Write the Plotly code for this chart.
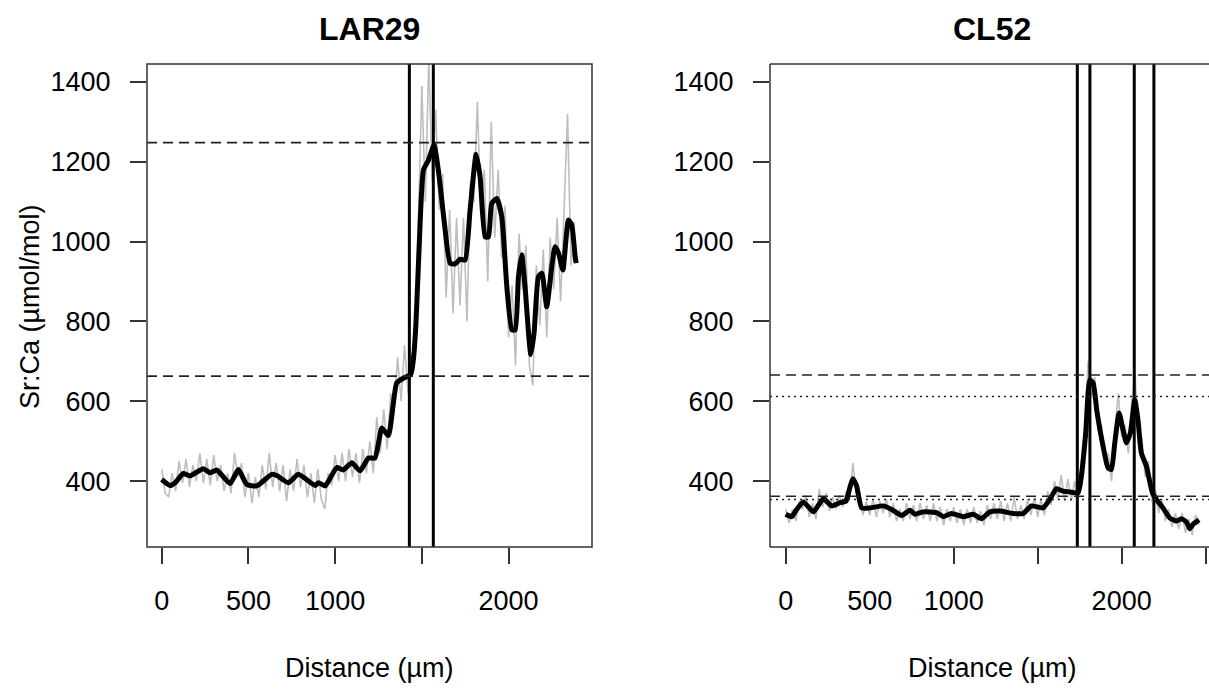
import plotly.graph_objects as go

# ---------------- data ----------------
titles = ["LAR29", "CL52"]
y_title = "Sr:Ca (µmol/mol)"
x_title = "Distance (µm)"

# LAR29 raw (grey) profile
lar_raw_x = list(range(0, 2381, 20))
lar_raw_y = [430, 370, 360, 420, 375, 450, 395, 455, 385, 440, 400, 470, 395, 455, 390, 465, 400, 440, 375, 420,
             370, 470, 410, 445, 360, 420, 345, 410, 360, 440, 380, 470, 385, 445, 375, 440, 350, 430, 375, 455,
             385, 440, 360, 420, 345, 430, 355, 330, 420, 390, 465, 400, 470, 400, 480, 410, 470, 395, 480, 420,
             500, 420, 560, 470, 580, 480, 620, 580, 710, 600, 740, 620, 720, 700, 1050, 1390, 1100, 1460, 1150, 1330,
             1080, 1170, 860, 1080, 820, 1060, 840, 1060, 800, 1150, 1100, 1350, 1070, 1180, 900, 1300, 1010, 1180, 960, 1090,
             760, 890, 690, 1020, 880, 990, 690, 640, 940, 790, 980, 760, 1010, 880, 1060, 850, 1080, 1320, 940, 1050]

# LAR29 smoothed (black) profile
lar_sm_x = [0, 48, 77, 125, 163, 240, 279, 317, 394, 442, 490, 548, 634, 663, 730, 788, 884, 904, 942, 1009,
            1047, 1096, 1144, 1192, 1230, 1269, 1307, 1355, 1394, 1436, 1451, 1466, 1486, 1509, 1538, 1570, 1595, 1628, 1663, 1692,
            1720, 1749, 1778, 1813, 1836, 1865, 1884, 1903, 1932, 1961, 1990, 2019, 2038, 2057, 2076, 2095, 2115, 2128, 2147, 2172,
            2192, 2220, 2249, 2268, 2288, 2313, 2345, 2364, 2384, 2390]
lar_sm_y = [404, 389, 396, 419, 413, 431, 421, 428, 394, 429, 392, 388, 417, 414, 396, 417, 389, 396, 388, 434,
            428, 446, 426, 458, 458, 533, 514, 646, 658, 667, 704, 796, 1004, 1179, 1204, 1242, 1179, 1054, 946, 944,
            956, 954, 1079, 1219, 1162, 1012, 1012, 1096, 1108, 1062, 887, 779, 779, 912, 967, 887, 771, 717, 771, 912,
            921, 837, 937, 987, 971, 929, 1054, 1042, 962, 946]

lar_vlines = [1428, 1566]
lar_dashed = [1248, 663]

# CL52 raw (grey) profile
cl_raw_x = list(range(0, 2461, 20))
cl_raw_y = [330, 295, 330, 300, 350, 330, 365, 310, 345, 305, 380, 335, 370, 325, 360, 330, 365, 335, 375, 355,
            445, 370, 360, 315, 350, 315, 355, 310, 350, 320, 355, 310, 345, 300, 330, 300, 345, 305, 340, 300,
            345, 305, 340, 300, 345, 300, 335, 290, 330, 300, 335, 295, 330, 290, 330, 295, 335, 295, 325, 290,
            340, 305, 345, 305, 350, 300, 345, 300, 360, 305, 340, 305, 355, 315, 360, 310, 355, 315, 375, 340,
            400, 355, 415, 350, 405, 350, 400, 350, 450, 470, 700, 610, 660, 530, 540, 440, 470, 400, 530, 620,
            510, 540, 470, 600, 670, 500, 510, 410, 450, 350, 380, 320, 355, 300, 330, 285, 320, 280, 320, 270,
            305, 265, 315, 290]

# CL52 smoothed (black) profile
cl_sm_x = [0, 36, 65, 105, 165, 224, 274, 323, 359, 379, 399, 422, 452, 502, 581, 631, 690, 740, 769, 819,
           898, 938, 987, 1057, 1116, 1166, 1215, 1275, 1354, 1414, 1463, 1532, 1572, 1612, 1651, 1691, 1741, 1760, 1786, 1810,
           1830, 1854, 1889, 1919, 1939, 1959, 1985, 2008, 2028, 2052, 2078, 2097, 2117, 2147, 2183, 2207, 2246, 2286, 2326, 2355,
           2385, 2405, 2425, 2461]
cl_sm_y = [317, 311, 329, 348, 323, 356, 338, 346, 350, 379, 406, 388, 333, 333, 338, 329, 314, 327, 317, 323,
           321, 311, 319, 311, 317, 306, 323, 325, 319, 319, 338, 333, 354, 381, 375, 373, 371, 412, 521, 654,
           646, 571, 488, 433, 429, 496, 571, 529, 496, 521, 604, 554, 471, 438, 371, 354, 333, 308, 300, 306,
           298, 281, 292, 303]

cl_vlines = [1736, 1811, 2075, 2192]
cl_dashed = [666, 362]
cl_dotted = [612, 354]

y_ticks = [400, 600, 800, 1000, 1200, 1400]
lar_xticks = [0, 500, 1000, 1500, 2000]
lar_xlabels = ["0", "500", "1000", "", "2000"]
cl_xticks = [0, 500, 1000, 1500, 2000, 2500]
cl_xlabels = ["0", "500", "1000", "", "2000", ""]

# ---------------- figure ----------------
W, H = 1209, 698
FONT = "Liberation Sans, Arial, sans-serif"
GREY = "#BEBEBE"
AXC = "#333333"

fig = go.Figure()

fig.add_trace(go.Scatter(x=lar_raw_x, y=lar_raw_y, mode="lines", line=dict(color=GREY, width=1.6),
                         xaxis="x", yaxis="y", showlegend=False, hoverinfo="skip"))
fig.add_trace(go.Scatter(x=lar_sm_x, y=lar_sm_y, mode="lines",
                         line=dict(color="black", width=5, shape="spline", smoothing=0.5),
                         xaxis="x", yaxis="y", showlegend=False))
fig.add_trace(go.Scatter(x=cl_raw_x, y=cl_raw_y, mode="lines", line=dict(color=GREY, width=1.6),
                         xaxis="x2", yaxis="y2", showlegend=False, hoverinfo="skip"))
fig.add_trace(go.Scatter(x=cl_sm_x, y=cl_sm_y, mode="lines",
                         line=dict(color="black", width=5, shape="spline", smoothing=0.5),
                         xaxis="x2", yaxis="y2", showlegend=False))

shapes = []
for v in lar_vlines:
    shapes.append(dict(type="line", xref="x", yref="y domain", x0=v, x1=v, y0=0, y1=1,
                       line=dict(color="black", width=3)))
for h in lar_dashed:
    shapes.append(dict(type="line", xref="x domain", yref="y", x0=0, x1=1, y0=h, y1=h,
                       line=dict(color="#222222", width=1.6, dash="10px,6px")))
for v in cl_vlines:
    shapes.append(dict(type="line", xref="x2", yref="y2 domain", x0=v, x1=v, y0=0, y1=1,
                       line=dict(color="black", width=3)))
for h in cl_dashed:
    shapes.append(dict(type="line", xref="x2 domain", yref="y2", x0=0, x1=1, y0=h, y1=h,
                       line=dict(color="#222222", width=1.6, dash="10px,6px")))
for h in cl_dotted:
    shapes.append(dict(type="line", xref="x2 domain", yref="y2", x0=0, x1=1, y0=h, y1=h,
                       line=dict(color="#222222", width=1.6, dash="2px,4px")))

# panel boxes drawn as shapes (right panel has no visible right edge)
box = dict(color=AXC, width=1.5)
shapes.append(dict(type="rect", xref="x domain", yref="y domain", x0=0, x1=1, y0=0, y1=1, line=box,
                   fillcolor="rgba(0,0,0,0)"))
shapes.append(dict(type="line", xref="paper", yref="y2 domain", x0=770 / W, x1=770 / W, y0=0, y1=1, line=box))
shapes.append(dict(type="line", xref="paper", yref="y2 domain", x0=770 / W, x1=1.0, y0=0, y1=0, line=box))
shapes.append(dict(type="line", xref="paper", yref="y2 domain", x0=770 / W, x1=1.0, y0=1, y1=1, line=box))


def px_x(p):
    return p / W


def px_y(p):
    return 1 - p / H


axis_common = dict(showgrid=False, zeroline=False, ticks="outside", ticklen=16, tickwidth=1.5,
                   tickcolor=AXC, showline=False,
                   tickfont=dict(family=FONT, size=27, color="black"), automargin=False,
                   ticklabelstandoff=14)

fig.update_layout(
    width=W, height=H,
    margin=dict(l=0, r=0, t=0, b=0),
    paper_bgcolor="white", plot_bgcolor="white",
    xaxis=dict(domain=[px_x(147), px_x(592)], range=[-84.8, 2481], tickvals=lar_xticks,
               ticktext=lar_xlabels, anchor="y", **axis_common),
    yaxis=dict(domain=[px_y(547), px_y(64)], range=[235, 1445], tickvals=y_ticks,
               anchor="x", **axis_common),
    xaxis2=dict(domain=[px_x(770), px_x(1209)], range=[-93.5, 2520], tickvals=cl_xticks,
                ticktext=cl_xlabels, anchor="y2", **axis_common),
    yaxis2=dict(domain=[px_y(547), px_y(64)], range=[235, 1445], tickvals=y_ticks,
                anchor="x2", **axis_common),
    shapes=shapes,
    annotations=[
        dict(text="<b>%s</b>" % titles[0], x=px_x(369.5), y=px_y(29), xref="paper", yref="paper",
             showarrow=False, xanchor="center", yanchor="middle", font=dict(family=FONT, size=32, color="black")),
        dict(text="<b>%s</b>" % titles[1], x=px_x(992), y=px_y(29), xref="paper", yref="paper",
             showarrow=False, xanchor="center", yanchor="middle", font=dict(family=FONT, size=32, color="black")),
        dict(text=x_title, x=px_x(369.5), y=px_y(668), xref="paper", yref="paper",
             showarrow=False, xanchor="center", yanchor="middle", font=dict(family=FONT, size=27, color="black")),
        dict(text=x_title, x=px_x(992), y=px_y(668), xref="paper", yref="paper",
             showarrow=False, xanchor="center", yanchor="middle", font=dict(family=FONT, size=27, color="black")),
        dict(text=y_title, x=px_x(30), y=px_y(307), xref="paper", yref="paper", textangle=-90,
             showarrow=False, xanchor="center", yanchor="middle", font=dict(family=FONT, size=27, color="black")),
    ],
)

fig.write_html("out.html")
